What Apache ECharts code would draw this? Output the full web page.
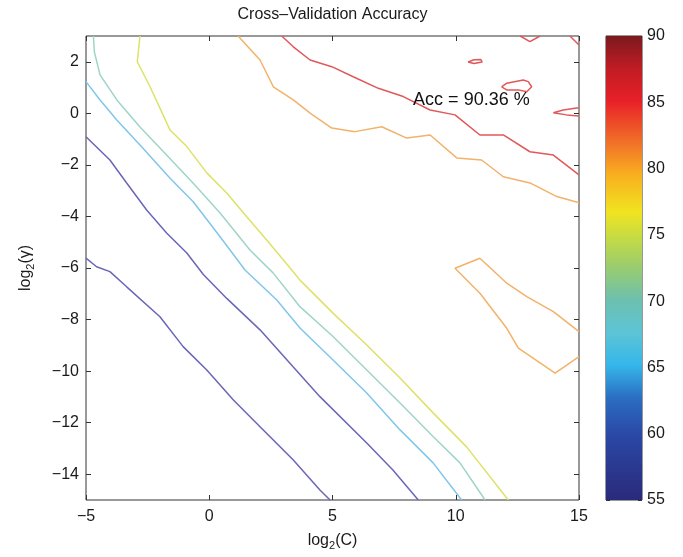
<!DOCTYPE html>
<html>
<head>
<meta charset="utf-8">
<script src="https://cdn.jsdelivr.net/npm/echarts@6/dist/echarts.min.js"></script>
<style>
html,body{margin:0;padding:0;background:#fff;}
#chart{width:683px;height:557px;}
</style>
</head>
<body>
<div id="chart"></div>
<script>
// ---- axis ranges and ticks ----
const xRange = [-5, 15];
const yRange = [-15, 3];
const xTicks = [-5, 0, 5, 10, 15];
const yTicks = [-14, -12, -10, -8, -6, -4, -2, 0, 2];
const cbRange = [55, 90];
const cbTicks = [55, 60, 65, 70, 75, 80, 85, 90];

const titleText = 'Cross\u2013Validation Accuracy';
const annotationText = 'Acc = 90.36 %';
const annotationPos = [8.27, 0.52];

// ---- contour lines, [log2(C), log2(gamma)] ----
const contourPurpleLow = [[-5.00,-5.62],[-4.57,-5.95],[-4.03,-6.14],[-3.35,-6.73],[-2.00,-7.89],[-1.06,-9.05],[-0.10,-9.96],[0.98,-11.12],[2.06,-12.16],[3.41,-13.45],[4.49,-14.61],[4.90,-15.00]];
const contourPurpleHigh = [[-5.00,-0.91],[-4.03,-1.81],[-3.35,-2.70],[-2.54,-3.75],[-1.73,-4.64],[-0.91,-5.42],[-0.24,-6.25],[0.71,-7.18],[2.06,-8.40],[3.40,-9.83],[4.49,-10.99],[6.39,-12.79],[7.45,-13.84],[8.48,-15.00]];
const contourBlue = [[-5.00,1.23],[-4.43,0.52],[-3.75,-0.26],[-2.68,-1.36],[-1.59,-2.52],[-0.65,-3.43],[0.44,-4.79],[1.45,-6.08],[2.74,-7.24],[3.68,-8.33],[5.02,-9.57],[6.39,-10.85],[7.74,-12.28],[9.08,-13.56],[10.24,-15.00]];
const contourTeal = [[-4.70,3.00],[-4.66,2.38],[-4.43,1.49],[-3.75,0.52],[-2.81,-0.53],[-1.73,-1.62],[-0.66,-2.70],[0.44,-3.87],[1.65,-5.30],[2.59,-6.19],[3.68,-7.50],[5.02,-8.66],[6.39,-9.96],[7.74,-11.24],[9.08,-12.54],[10.17,-13.56],[11.19,-15.00]];
const contourYellow = [[-2.81,3.00],[-2.92,2.00],[-2.40,1.03],[-1.59,-0.65],[-0.91,-1.29],[-0.10,-2.31],[0.71,-3.09],[1.52,-4.01],[2.33,-4.91],[3.28,-6.00],[3.68,-6.47],[5.02,-7.75],[6.39,-8.99],[7.74,-10.27],[9.08,-11.62],[10.44,-12.94],[12.13,-15.00]];
const contourOrange = [[1.17,3.00],[2.06,2.07],[2.60,1.03],[3.41,0.52],[4.09,0.01],[4.97,-0.57],[5.91,-0.71],[7.00,-0.52],[8.01,-0.96],[8.96,-0.84],[10.04,-1.73],[11.05,-1.81],[11.93,-2.46],[13.01,-2.70],[14.10,-3.23],[15.00,-3.47]];
const contourOrangeIsland = [[15.00,-8.47],[13.96,-7.69],[12.88,-7.11],[12.07,-6.59],[10.98,-5.62],[9.97,-6.01],[10.98,-6.98],[12.07,-8.34],[12.54,-9.11],[14.03,-10.08],[15.00,-9.44]];
const contourRed = [[2.94,3.00],[3.41,2.58],[4.09,2.07],[4.97,1.81],[5.84,1.42],[6.86,0.97],[7.87,0.65],[8.96,0.13],[9.97,-0.06],[10.98,-0.84],[11.93,-0.84],[13.01,-1.49],[13.96,-1.62],[15.00,-2.39]];
const contourRedTopV = [[12.61,3.00],[13.01,2.78],[13.42,3.00]];
const contourRedCorner = [[14.63,3.00],[15.00,2.65]];
const contourRedLoop = [[10.50,1.99],[10.74,2.08],[11.02,2.09],[11.07,1.99],[10.74,1.93],[10.50,1.99]];
const contourRedIsland = [[11.86,1.03],[12.07,1.17],[12.74,1.29],[12.94,1.23],[13.08,1.03],[12.88,0.84],[12.54,0.91],[12.07,0.91],[11.86,1.03]];
const contourRedWedge = [[15.00,0.21],[14.91,0.21],[14.36,0.13],[13.96,0.02],[13.96,0.00],[14.50,-0.06],[15.00,-0.10]];

const FONT = 'Liberation Sans, Arial, Helvetica, sans-serif';
const INK = '#1a1a1a';
const COL = {
  purple: '#6a66b8',
  blue: '#80c6ec',
  teal: '#9fd4c8',
  yellow: '#dde266',
  orange: '#f2b26a',
  red: '#e0585a'
};

const fmt = v => (v < 0 ? '\u2212' + Math.abs(v) : String(v));

function contour(data, color) {
  return {
    type: 'line', xAxisIndex: 0, yAxisIndex: 0, data: data,
    symbol: 'none', showSymbol: false, silent: true, animation: false,
    lineStyle: { color: color, width: 1.5 }, clip: true, z: 3
  };
}

const jetStops = [
  { offset: 0.00, color: '#2a2a7a' },
  { offset: 0.14, color: '#2a48a6' },
  { offset: 0.22, color: '#2a6ec2' },
  { offset: 0.29, color: '#35b6ea' },
  { offset: 0.36, color: '#5cc4d6' },
  { offset: 0.43, color: '#6cc0b0' },
  { offset: 0.50, color: '#98cc70' },
  { offset: 0.57, color: '#c8dc40' },
  { offset: 0.62, color: '#f0e420' },
  { offset: 0.70, color: '#f8b020' },
  { offset: 0.78, color: '#f06828' },
  { offset: 0.86, color: '#e82028' },
  { offset: 0.93, color: '#c01c24' },
  { offset: 1.00, color: '#7a1a1e' }
];

const chart = echarts.init(document.getElementById('chart'), null, { renderer: 'canvas' });

const tickStyle = { show: true, inside: true, length: 5, lineStyle: { color: '#333', width: 1 } };
const noLine = { show: false, onZero: false };
const nameRich = {
  a: { fontSize: 16, fontFamily: FONT, color: INK, lineHeight: 20, verticalAlign: 'middle' },
  s: { fontSize: 11, fontFamily: FONT, color: INK, lineHeight: 11, verticalAlign: 'bottom' }
};

chart.setOption({
  animation: false,
  backgroundColor: '#fff',
  graphic: [{
    id: 'title', type: 'text', x: 332.5, y: 15,
    style: { text: titleText, font: '16px ' + FONT, fill: INK, textAlign: 'center', textVerticalAlign: 'middle' }
  }],
  grid: [
    { left: 86, top: 36, width: 493, height: 464, show: true, borderColor: '#333', borderWidth: 1, backgroundColor: 'transparent' },
    { left: 606, top: 36, width: 36, height: 464, show: true, borderColor: '#333', borderWidth: 1, backgroundColor: 'transparent' }
  ],
  xAxis: [
    {
      gridIndex: 0, type: 'value', min: xRange[0], max: xRange[1], interval: 5, position: 'bottom',
      axisLine: noLine, splitLine: { show: false },
      axisTick: Object.assign({ customValues: xTicks }, tickStyle),
      axisLabel: { customValues: xTicks, formatter: fmt, fontSize: 16, fontFamily: FONT, color: INK, margin: 9 },
      name: '{a|log}{s|2}{a|(C)}', nameLocation: 'middle', nameGap: 31,
      nameTextStyle: { fontFamily: FONT, color: INK, rich: nameRich }
    },
    {
      gridIndex: 0, type: 'value', min: xRange[0], max: xRange[1], interval: 5, position: 'top',
      axisLine: noLine, splitLine: { show: false },
      axisTick: Object.assign({ customValues: xTicks }, tickStyle), axisLabel: { show: false }
    },
    {
      gridIndex: 1, type: 'category', data: ['cb'], position: 'bottom',
      axisLine: noLine, axisTick: { show: false }, axisLabel: { show: false }, splitLine: { show: false }
    }
  ],
  yAxis: [
    {
      gridIndex: 0, type: 'value', min: yRange[0], max: yRange[1], position: 'left',
      axisLine: noLine, splitLine: { show: false },
      axisTick: Object.assign({ customValues: yTicks }, tickStyle),
      axisLabel: { customValues: yTicks, formatter: fmt, fontSize: 16, fontFamily: FONT, color: INK, margin: 7 },
      name: '{a|log}{s|2}{a|(\u03b3)}', nameLocation: 'middle', nameGap: 50,
      nameTextStyle: { fontFamily: FONT, color: INK, rich: nameRich }
    },
    {
      gridIndex: 0, type: 'value', min: yRange[0], max: yRange[1], position: 'right',
      axisLine: noLine, splitLine: { show: false },
      axisTick: Object.assign({ customValues: yTicks }, tickStyle),
      axisLabel: { show: false, customValues: yTicks }
    },
    {
      gridIndex: 1, type: 'value', min: cbRange[0], max: cbRange[1], interval: 5, position: 'right',
      axisLine: noLine, splitLine: { show: false },
      axisTick: Object.assign({ customValues: cbTicks }, tickStyle, { length: 4 }),
      axisLabel: { customValues: cbTicks, fontSize: 16, fontFamily: FONT, color: INK, margin: 5 }
    },
    {
      gridIndex: 1, type: 'value', min: cbRange[0], max: cbRange[1], interval: 5, position: 'left',
      axisLine: noLine, splitLine: { show: false },
      axisTick: Object.assign({ customValues: cbTicks }, tickStyle, { length: 4 }),
      axisLabel: { show: false }
    }
  ],
  series: [
    {
      type: 'bar', xAxisIndex: 2, yAxisIndex: 2, stack: 'cb', barWidth: '100%', silent: true,
      data: [cbRange[0]], itemStyle: { color: 'rgba(0,0,0,0)' }, z: 1
    },
    {
      type: 'bar', xAxisIndex: 2, yAxisIndex: 2, stack: 'cb', barWidth: '100%', silent: true,
      data: [cbRange[1] - cbRange[0]],
      itemStyle: { color: new echarts.graphic.LinearGradient(0, 1, 0, 0, jetStops) }, z: 1
    },
    contour(contourPurpleLow, COL.purple),
    contour(contourPurpleHigh, COL.purple),
    contour(contourBlue, COL.blue),
    contour(contourTeal, COL.teal),
    contour(contourYellow, COL.yellow),
    contour(contourOrange, COL.orange),
    contour(contourOrangeIsland, COL.orange),
    contour(contourRed, COL.red),
    contour(contourRedTopV, COL.red),
    contour(contourRedCorner, COL.red),
    contour(contourRedLoop, COL.red),
    contour(contourRedIsland, COL.red),
    contour(contourRedWedge, COL.red)
  ]
});

// annotation placed through the chart's own coordinate system
const annPx = chart.convertToPixel({ gridIndex: 0 }, annotationPos);
chart.setOption({
  graphic: [{
    id: 'annotation', type: 'text', x: annPx[0], y: annPx[1], z: 10,
    style: { text: annotationText, font: '18px ' + FONT, fill: '#111', textAlign: 'left', textVerticalAlign: 'middle' }
  }]
});
</script>
</body>
</html>
